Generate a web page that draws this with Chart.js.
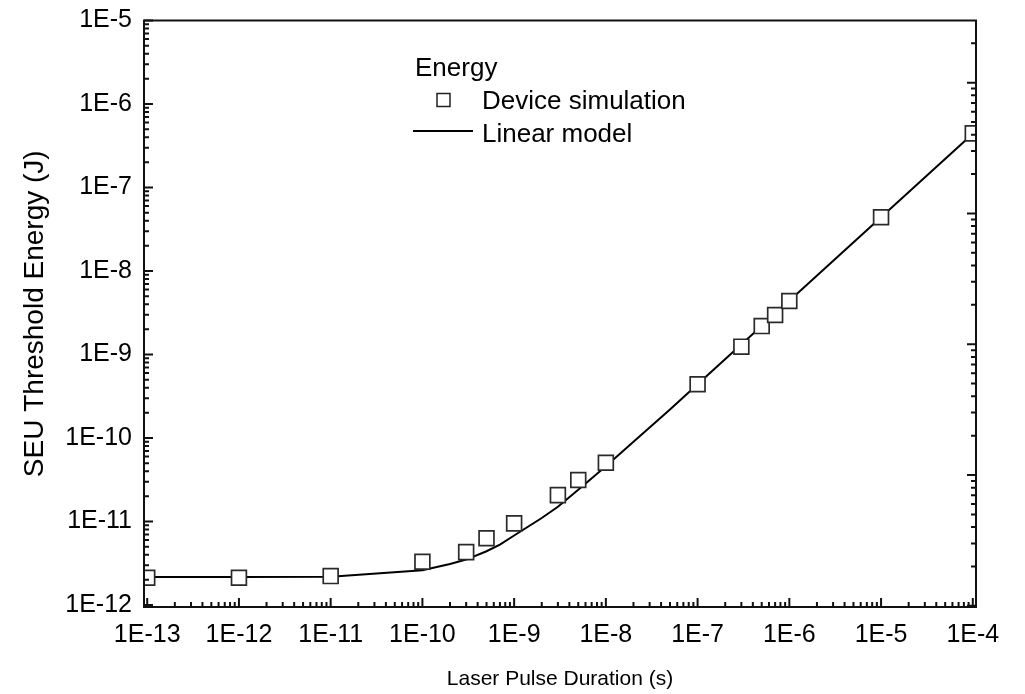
<!DOCTYPE html>
<html>
<head>
<meta charset="utf-8">
<script src="https://cdn.jsdelivr.net/npm/chart.js@4.4.1/dist/chart.umd.min.js"></script>
<style>
html,body{margin:0;padding:0;background:#fff;}
#wrap{width:1025px;height:694px;}
</style>
</head>
<body>
<div id="wrap"><canvas id="c" width="1025" height="694"></canvas></div>
<script>
// ---- data ----
const simX = [1e-13, 1e-12, 1e-11, 1e-10, 3e-10, 5e-10, 1e-9, 3e-9, 5e-9, 1e-8, 1e-7, 3e-7, 5e-7, 7e-7, 1e-6, 1e-5, 1e-4];
const simY = [2.12e-12, 2.12e-12, 2.22e-12, 3.3e-12, 4.3e-12, 6.3e-12, 9.5e-12, 2.07e-11, 3.14e-11, 5.06e-11, 4.4e-10, 1.24e-9, 2.19e-9, 2.97e-9, 4.37e-9, 4.4e-8, 4.45e-7];

const modelX = [1e-13, 1e-12, 1e-11, 1e-10, 2e-10, 3e-10, 5e-10, 7e-10, 1e-9, 2e-9, 3e-9, 5e-9, 1e-8, 2e-8, 5e-8, 1e-7, 1e-6, 1e-5, 1e-4];
const modelY = [2.16e-12, 2.16e-12, 2.18e-12, 2.6e-12, 3.1e-12, 3.5e-12, 4.4e-12, 5.3e-12, 6.8e-12, 1.1e-11, 1.5e-11, 2.4e-11, 4.6e-11, 9.0e-11, 2.2e-10, 4.4e-10, 4.4e-9, 4.4e-8, 4.4e-7];

const xTickValues = [1e-13, 1e-12, 1e-11, 1e-10, 1e-9, 1e-8, 1e-7, 1e-6, 1e-5, 1e-4];
const xTickLabels = ['1E-13', '1E-12', '1E-11', '1E-10', '1E-9', '1E-8', '1E-7', '1E-6', '1E-5', '1E-4'];
const yTickValues = [1e-12, 1e-11, 1e-10, 1e-9, 1e-8, 1e-7, 1e-6, 1e-5];
const yTickLabels = ['1E-12', '1E-11', '1E-10', '1E-9', '1E-8', '1E-7', '1E-6', '1E-5'];

const xTitle = 'Laser Pulse Duration (s)';
const yTitle = 'SEU Threshold Energy (J)';
const legendTitle = 'Energy';
const seriesNames = ['Device simulation', 'Linear model'];

const xRange = [Math.pow(10, -13.035), Math.pow(10, -3.965)];
const yRange = [Math.pow(10, -12.024), 1e-5];
const y2Range = [Math.pow(10, -0.0092), Math.pow(10, 4.475)];

// ---- helpers ----
const FONT = '"Liberation Sans", Arial, sans-serif';
Chart.defaults.font.family = FONT;
Chart.defaults.color = '#000';

function logTickList(min, max) {
  const out = [];
  const d0 = Math.floor(Math.log10(min)) - 1, d1 = Math.ceil(Math.log10(max)) + 1;
  for (let d = d0; d <= d1; d++) {
    for (let m = 1; m <= 9; m++) {
      const v = m * Math.pow(10, d);
      if (v >= min * (1 - 1e-9) && v <= max * (1 + 1e-9)) out.push({v, major: m === 1});
    }
  }
  return out;
}

function noPad(s) {
  s.paddingTop = 0; s.paddingBottom = 0; s.paddingLeft = 0; s.paddingRight = 0;
}

const framePlugin = {
  id: 'frame',
  afterDatasetsDraw(chart) {
    const {ctx, chartArea: a, scales} = chart;
    ctx.save();
    ctx.strokeStyle = '#111';
    ctx.lineWidth = 2;
    ctx.lineCap = 'butt';
    ctx.beginPath();
    ctx.rect(a.left, a.top, a.right - a.left, a.bottom - a.top);
    ctx.stroke();
    const MAJ = 9, MIN = 5;
    ctx.beginPath();
    logTickList(scales.x.min, scales.x.max).forEach(t => {
      const p = scales.x.getPixelForValue(t.v);
      ctx.moveTo(p, a.bottom);
      ctx.lineTo(p, a.bottom - (t.major ? MAJ : MIN));
    });
    logTickList(scales.y.min, scales.y.max).forEach(t => {
      const p = scales.y.getPixelForValue(t.v);
      ctx.moveTo(a.left, p);
      ctx.lineTo(a.left + (t.major ? MAJ : MIN), p);
    });
    logTickList(scales.y2.min, scales.y2.max).forEach(t => {
      const p = scales.y2.getPixelForValue(t.v);
      ctx.moveTo(a.right, p);
      ctx.lineTo(a.right - (t.major ? MAJ : MIN), p);
    });
    ctx.stroke();
    ctx.restore();
  }
};

const legendPlugin = {
  id: 'customLegend',
  afterDraw(chart) {
    const ctx = chart.ctx;
    ctx.save();
    ctx.fillStyle = '#000';
    ctx.font = '26px ' + FONT;
    ctx.textBaseline = 'alphabetic';
    ctx.textAlign = 'left';
    ctx.fillText(legendTitle, 415, 76);
    ctx.fillText(seriesNames[0], 482, 109);
    ctx.fillText(seriesNames[1], 482, 142);
    ctx.strokeStyle = '#222';
    ctx.lineWidth = 1.5;
    ctx.fillStyle = '#fff';
    ctx.fillRect(437, 93.5, 13, 13);
    ctx.strokeRect(437, 93.5, 13, 13);
    ctx.strokeStyle = '#000';
    ctx.lineWidth = 2;
    ctx.beginPath();
    ctx.moveTo(413, 131);
    ctx.lineTo(473, 131);
    ctx.stroke();
    ctx.restore();
  }
};

new Chart(document.getElementById('c'), {
  type: 'scatter',
  data: {
    datasets: [
      {
        label: seriesNames[1],
        data: modelX.map((x, i) => ({x, y: modelY[i]})),
        showLine: true,
        borderColor: '#000',
        borderWidth: 2,
        pointRadius: 0,
        tension: 0,
        fill: false,
        clip: 0,
        order: 2
      },
      {
        label: seriesNames[0],
        data: simX.map((x, i) => ({x, y: simY[i]})),
        showLine: false,
        pointStyle: 'rect',
        pointRadius: 10.5,
        pointBorderWidth: 1.7,
        pointBorderColor: '#2a2a2a',
        pointBackgroundColor: '#fff',
        borderColor: '#2a2a2a',
        backgroundColor: '#fff',
        clip: 0,
        order: 1
      }
    ]
  },
  options: {
    responsive: false,
    animation: false,
    devicePixelRatio: 1,
    layout: {padding: {top: 20.5, left: 0, right: 0, bottom: 0}},
    plugins: {legend: {display: false}, tooltip: {enabled: false}},
    scales: {
      x: {
        type: 'logarithmic',
        position: 'bottom',
        min: xRange[0],
        max: xRange[1],
        bounds: 'data',
        grid: {display: false, drawTicks: false},
        border: {display: false},
        ticks: {font: {size: 25}, padding: 13, maxRotation: 0, minRotation: 0, autoSkip: false,
                callback: (v, i) => xTickLabels[i]},
        title: {display: true, text: xTitle, font: {size: 21}, padding: {top: 0, bottom: 2}},
        afterBuildTicks: s => { s.ticks = xTickValues.map(v => ({value: v, major: true})); },
        afterFit: s => { s.height = 87; noPad(s); }
      },
      y: {
        type: 'logarithmic',
        position: 'left',
        min: yRange[0],
        max: yRange[1],
        bounds: 'data',
        grid: {display: false, drawTicks: false},
        border: {display: false},
        ticks: {font: {size: 25}, padding: 12, autoSkip: false,
                callback: (v, i) => yTickLabels[i]},
        title: {display: true, text: yTitle, font: {size: 28}, padding: {top: 18, bottom: 0}},
        afterBuildTicks: s => { s.ticks = yTickValues.map(v => ({value: v, major: true})); },
        afterFit: s => { s.width = 144; noPad(s); }
      },
      y2: {
        type: 'logarithmic',
        position: 'right',
        min: y2Range[0],
        max: y2Range[1],
        bounds: 'data',
        grid: {display: false, drawTicks: false},
        border: {display: false},
        ticks: {display: false},
        afterFit: s => { s.width = 49; noPad(s); }
      }
    }
  },
  plugins: [framePlugin, legendPlugin]
});
</script>
</body>
</html>
